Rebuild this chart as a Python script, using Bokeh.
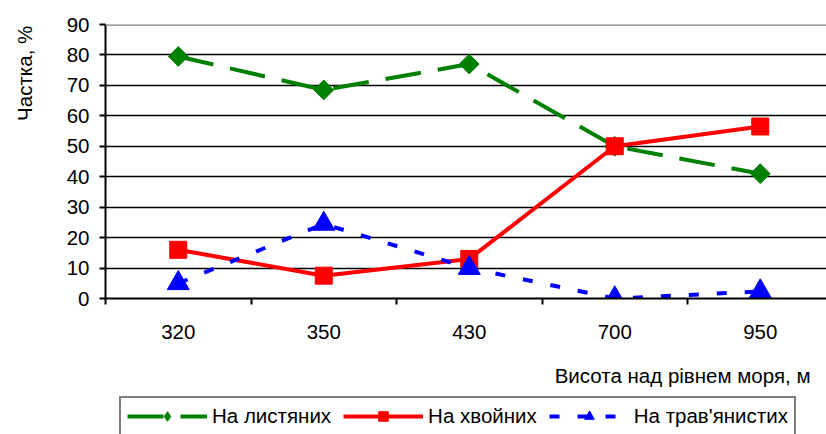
import math
from bokeh.plotting import figure
from bokeh.layouts import column, row
from bokeh.models import Range1d, FixedTicker, Span, Label, Legend, LegendItem
from bokeh.embed import file_html
from bokeh.resources import INLINE

# ---- data ----
categories = ["320", "350", "430", "700", "950"]
leaf = [79.5, 68.5, 77.0, 50.0, 41.0]        # На листяних
conifer = [16.0, 7.5, 13.0, 50.0, 56.5]      # На хвойних
herb = [5.0, 24.5, 10.0, 0.0, 2.3]           # На трав'янистих
y_ticks = [0, 10, 20, 30, 40, 50, 60, 70, 80, 90]
series_names = ["На листяних", "На хвойних", "На трав'янистих"]
y_title = "Частка, %"
x_title = "Висота над рівнем моря, м"

FONT = "Liberation Sans"
FS = "20.5px"

centers = [i + 0.5 for i in range(len(categories))]
bounds = [float(i) for i in range(len(categories) + 1)]


def blank(w, h):
    f = figure(width=w, height=h, x_range=Range1d(0, w), y_range=Range1d(0, h),
               x_axis_type=None, y_axis_type=None,
               output_backend="svg", toolbar_location=None,
               min_border_left=0, min_border_right=0,
               min_border_top=0, min_border_bottom=0)
    f.outline_line_color = None
    f.border_fill_color = "white"
    f.background_fill_color = "white"
    return f


# ---- left strip with the y title ----
p_yt = blank(45, 348)
p_yt.add_layout(Label(x=24, y=286, text=y_title, angle=math.pi / 2,
                      text_align="center", text_baseline="middle",
                      text_font=FONT, text_font_size=FS, text_color="black"))

# ---- main chart ----
p = figure(width=781, height=348,
           x_range=Range1d(0, 721 / 145.5), y_range=Range1d(0, 90),
           output_backend="svg", toolbar_location=None,
           min_border_left=60, min_border_right=0,
           min_border_top=24, min_border_bottom=50)
p.outline_line_color = None
p.background_fill_color = "white"
p.border_fill_color = "white"

p.xgrid.visible = False
p.ygrid.ticker = FixedTicker(ticks=y_ticks[1:-1])
p.ygrid.grid_line_color = "black"
p.ygrid.grid_line_width = 1.5
p.add_layout(Span(location=y_ticks[-1], dimension="width",
                  line_color="#808080", line_width=2.5))

ya = p.yaxis[0]
ya.ticker = FixedTicker(ticks=y_ticks)
ya.axis_line_width = 2
ya.axis_line_color = "black"
ya.major_tick_line_width = 2
ya.major_tick_line_color = "black"
ya.major_tick_in = 0
ya.major_tick_out = 6
ya.minor_tick_out = 0
ya.minor_tick_in = 0
ya.major_label_standoff = 10
ya.major_label_text_font = FONT
ya.major_label_text_font_size = FS
ya.major_label_text_color = "black"

xa = p.xaxis[0]
xa.ticker = FixedTicker(ticks=centers, minor_ticks=bounds)
xa.major_label_overrides = {c: lab for c, lab in zip(centers, categories)}
xa.axis_line_width = 2
xa.axis_line_color = "black"
xa.major_tick_in = 0
xa.major_tick_out = 0
xa.minor_tick_in = 0
xa.minor_tick_out = 6
xa.minor_tick_line_width = 2
xa.minor_tick_line_color = "black"
xa.major_label_standoff = 20
xa.major_label_text_font = FONT
xa.major_label_text_font_size = FS
xa.major_label_text_color = "black"

styles = [
    dict(color="#008000", dash="36 17", marker="square", angle=math.pi / 4, size=14,
         lmarker="diamond"),
    dict(color="#FF0000", dash="solid", marker="square", angle=0.0, size=17,
         lmarker="square"),
    dict(color="#0000FF", dash="10 18", marker="triangle", angle=0.0, size=22,
         lmarker="triangle"),
]
series = [leaf, conifer, herb]


def draw(fig, legend_copy=False):
    out = []
    for vals, st in zip(series, styles):
        ln = fig.line(centers, vals, line_color=st["color"], line_width=4,
                      line_dash=st["dash"])
        mk = fig.scatter(centers, vals,
                         marker=st["lmarker"] if legend_copy else st["marker"],
                         angle=0.0 if legend_copy else st["angle"],
                         size=st["size"], fill_color=st["color"],
                         line_color=st["color"])
        if legend_copy:
            ln.visible = False
            mk.visible = False
        out.append([ln, mk])
    return out


draw(p)

# ---- bottom strip: x title and legend ----
p_b = blank(826, 86)
p_b.add_layout(Label(x=810, y=59, text=x_title,
                     text_align="right", text_baseline="middle",
                     text_font=FONT, text_font_size=FS, text_color="black"))
rs = draw(p_b, legend_copy=True)
legend = Legend(items=[LegendItem(label=n, renderers=r) for n, r in zip(series_names, rs)],
                orientation="horizontal", location=(119, -2),
                border_line_color="black", border_line_width=2,
                padding=6, spacing=12, label_standoff=5, margin=0,
                glyph_width=80, glyph_height=24,
                label_text_font=FONT, label_text_font_size=FS, label_text_color="black",
                background_fill_color="white", background_fill_alpha=1)
p_b.add_layout(legend)

layout = column(row(p_yt, p, spacing=0), p_b, spacing=0)
open("out.html", "w").write(file_html(layout, INLINE))
